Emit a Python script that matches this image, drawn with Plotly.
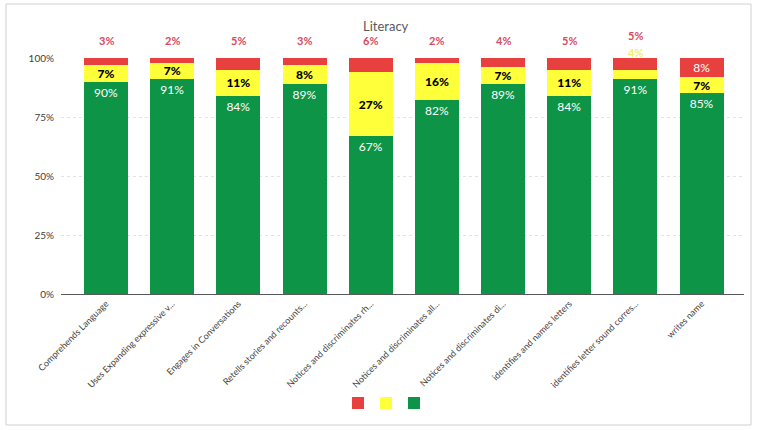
import plotly.graph_objects as go

# Literacy skill outcomes: share of children per rating band
categories = [
    "Comprehends Language",
    "Uses Expanding expressive v...",
    "Engages in Conversations",
    "Retells stories and recounts...",
    "Notices and discriminates rh...",
    "Notices and discriminates all...",
    "Notices and discriminates di...",
    "identifies and names letters",
    "identifies letter sound corres...",
    "writes name",
]
green_pct = [90, 91, 84, 89, 67, 82, 89, 84, 91, 85]
yellow_pct = [7, 7, 11, 8, 27, 16, 7, 11, 4, 7]
red_pct = [3, 2, 5, 3, 6, 2, 4, 5, 5, 8]
y_ticks = [0, 25, 50, 75, 100]

GREEN = "#0E9447"
YELLOW = "#FFFF3A"
RED = "#E8403E"
RED_TEXT = "#D84A60"
FONT = "Lato, 'Open Sans', sans-serif"

# plot-area geometry in pixels, used to place paper-referenced items
PLOT_L, PLOT_R, PLOT_T, PLOT_B = 61, 744, 58, 294
PW, PH = PLOT_R - PLOT_L, PLOT_B - PLOT_T


def px_to_paper(px, py):
    return (px - PLOT_L) / PW, (PLOT_B - py) / PH


x = list(range(len(categories)))

# labels drawn inside segments; thin segments are labelled above the bar instead
yellow_inside = [f"{v}%" if v >= 6 else "" for v in yellow_pct]
red_inside = [f"{v}%" if v >= 8 else "" for v in red_pct]

fig = go.Figure()
fig.add_trace(go.Bar(
    x=x, y=green_pct, name="", legend="legend3",
    marker=dict(color=GREEN, line_width=0),
    text=[f"{v}%" for v in green_pct], textposition="inside",
    insidetextanchor="end", constraintext="none",
    textfont=dict(color="white", size=12, family=FONT),
    hoverinfo="skip",
))
fig.add_trace(go.Bar(
    x=x, y=yellow_pct, name="", legend="legend2",
    marker=dict(color=YELLOW, line_width=0),
    text=yellow_inside, textposition="inside",
    insidetextanchor="middle", constraintext="none",
    textfont=dict(color="black", size=12, family="Lato Black, Lato, sans-serif", weight="bold"),
    hoverinfo="skip",
))
fig.add_trace(go.Bar(
    x=x, y=red_pct, name="", legend="legend",
    marker=dict(color=RED, line_width=0),
    text=red_inside, textposition="inside",
    insidetextanchor="middle", constraintext="none",
    textfont=dict(color="white", size=12, family=FONT),
    hoverinfo="skip",
))

annotations = []
for i in x:
    total = green_pct[i] + yellow_pct[i] + red_pct[i]
    if red_inside[i] == "":
        annotations.append(dict(
            x=i, y=total, xref="x", yref="y", text=f"{red_pct[i]}%",
            showarrow=False, yshift=18 if yellow_inside[i] else 23,
            font=dict(color=RED_TEXT, size=11, family=FONT, weight="bold"),
        ))
    if yellow_inside[i] == "":
        annotations.append(dict(
            x=i, y=total, xref="x", yref="y", text=f"{yellow_pct[i]}%",
            showarrow=False, yshift=6,
            font=dict(color="#F4EE6A", size=11, family=FONT, weight="bold"),
        ))

tx, ty = px_to_paper(386, 26)
annotations.append(dict(
    x=tx, y=ty, xref="paper", yref="paper", text="Literacy",
    showarrow=False, xanchor="center", yanchor="middle",
    font=dict(color="#595959", size=13, family=FONT),
))


def legend_at(cx, cy):
    lx, ly = px_to_paper(cx - 19, cy)
    return dict(
        orientation="h", x=lx, xanchor="left", y=ly, yanchor="middle",
        font=dict(size=10), bgcolor="rgba(0,0,0,0)",
        entrywidth=1, entrywidthmode="pixels",
    )


fig.update_layout(
    width=757, height=430,
    margin=dict(l=PLOT_L, r=757 - PLOT_R, t=PLOT_T, b=430 - PLOT_B, autoexpand=False),
    paper_bgcolor="white", plot_bgcolor="white",
    barmode="stack", bargap=0.335,
    font=dict(family=FONT, color="#404040"),
    showlegend=True,
    legend=legend_at(357, 403),
    legend2=legend_at(385, 403),
    legend3=legend_at(413, 403),
    annotations=annotations,
    xaxis=dict(
        range=[-0.68, 9.64], tickmode="array", tickvals=x, ticktext=categories,
        tickangle=-45, tickfont=dict(size=9, color="#404040", family=FONT),
        showline=True, linecolor="#595959", linewidth=1,
        showgrid=False, ticks="", zeroline=False, fixedrange=True,
    ),
    yaxis=dict(
        range=[0, 100], tickmode="array", tickvals=y_ticks,
        ticktext=[f"{v}%" for v in y_ticks],
        tickfont=dict(size=10, color="#404040", family=FONT),
        showgrid=True, gridcolor="#E3E3E3", gridwidth=1, griddash="dot",
        zeroline=False, showline=False, ticks="", ticklabelstandoff=6,
    ),
    shapes=[dict(
        type="rect", xref="paper", yref="paper",
        x0=-55 / PW, x1=1 + 7 / PW, y0=-131 / PH, y1=1 + 54 / PH,
        line=dict(color="#D0D0D0", width=1), fillcolor="rgba(0,0,0,0)",
    )],
)

fig.write_html("out.html")
